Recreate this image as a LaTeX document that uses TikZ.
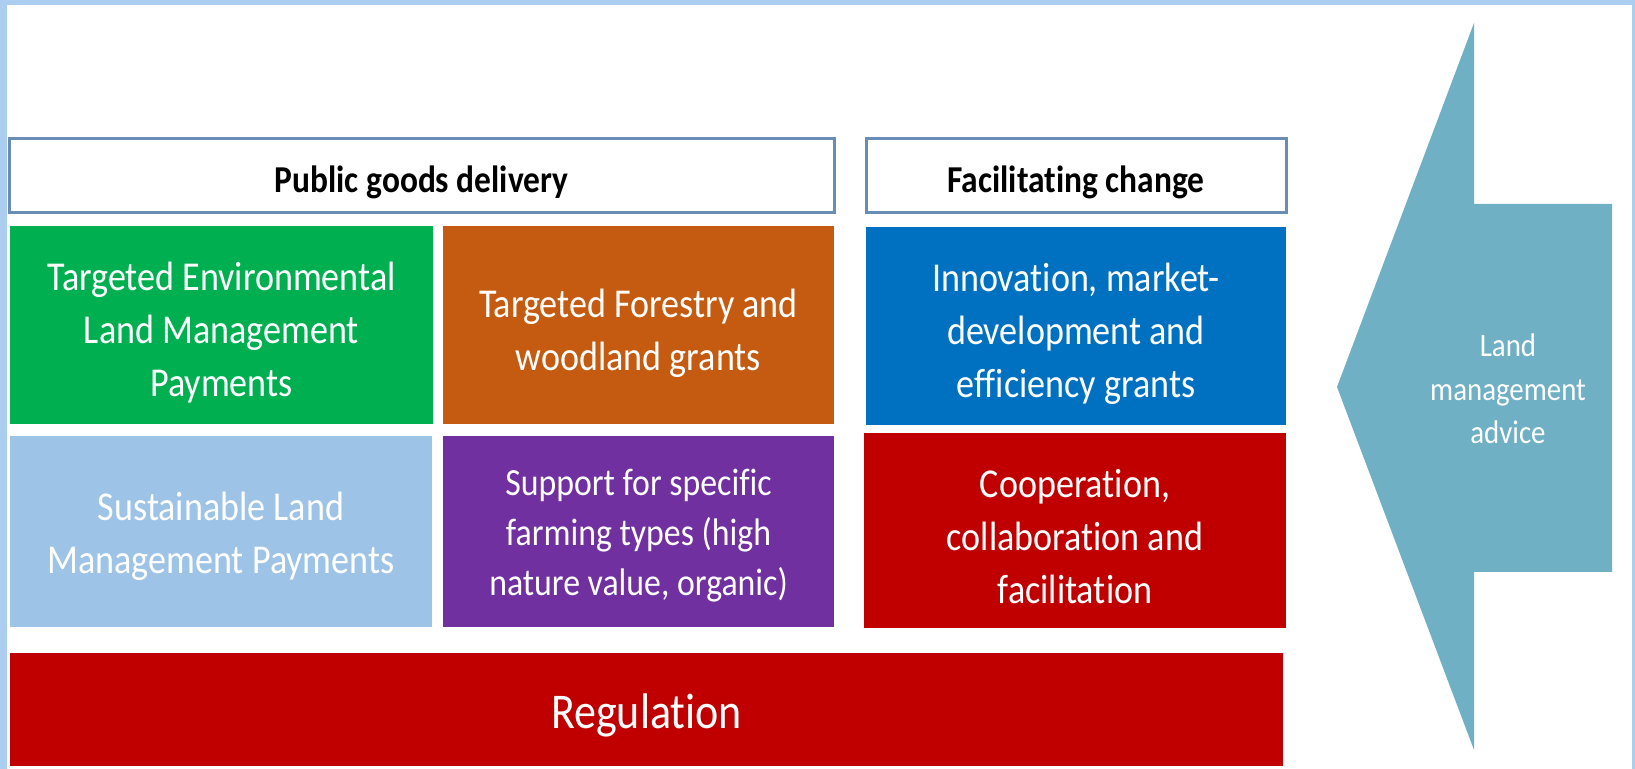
\documentclass[tikz,border=0pt]{standalone}
\usepackage{fontspec}
\setmainfont{Carlito}[FakeStretch=0.88, Ligatures=NoCommon]
\definecolor{frameblue}{HTML}{ABCDEF}
\definecolor{hdrline}{HTML}{6A8DB5}
\definecolor{cgreen}{HTML}{00B050}
\definecolor{corange}{HTML}{C55A11}
\definecolor{cblue}{HTML}{0070C0}
\definecolor{cltblue}{HTML}{9DC3E6}
\definecolor{cpurple}{HTML}{7030A0}
\definecolor{cred}{HTML}{C00000}
\definecolor{carrow}{HTML}{6FB0C5}
\tikzset{
  hdr/.style={draw=hdrline, line width=1.5pt, fill=white, inner sep=0pt, minimum height=37pt},
  hdrtext/.style={inner sep=0pt, font=\bfseries\fontsize{19}{24}\selectfont, text=black},
  cbox/.style={inner sep=0pt},
  ctext/.style={inner sep=0pt, align=center, text=white, font=\fontsize{20.5}{26.5}\selectfont},
}
\begin{document}
\begin{tikzpicture}[x=0.5pt, y=-0.5pt]
\useasboundingbox (0,0) rectangle (1635,769);
\fill[white] (0,0) rectangle (1635,769);
% frame
\fill[frameblue] (0,0) rectangle (1635,5);
\fill[frameblue] (0,0) rectangle (7,769);
\fill[frameblue] (1632,0) rectangle (1635,769);
% headers
\node[hdr, minimum width=412.5pt] (pgd) at (421.5,176) {};
\node[hdrtext, yshift=-3pt] (pgdt) at (pgd.center) {Public goods delivery};
\node[hdr, minimum width=210pt] (fc) at (1076,176) {};
\node[hdrtext, yshift=-3pt] (fct) at (fc.center) {Facilitating change};
% boxes
\node[cbox, fill=cgreen, minimum width=211.5pt, minimum height=99pt] (env) at (221.5,325) {};
\node[ctext, yshift=-4pt] (envt) at (env.center) {Targeted Environmental\\Land Management\\Payments};
\node[cbox, fill=corange, minimum width=195.5pt, minimum height=99pt] (forest) at (638.5,325) {};
\node[ctext, yshift=-4pt] (forestt) at (forest.center) {Targeted Forestry and\\woodland grants};
\node[cbox, fill=cblue, minimum width=210pt, minimum height=99pt] (innov) at (1076,326) {};
\node[ctext, yshift=-4pt] (innovt) at (innov.center) {Innovation, market-\\development and\\efficiency grants};
\node[cbox, fill=cltblue, minimum width=211pt, minimum height=95.5pt] (slm) at (221,531.5) {};
\node[ctext, yshift=-2.5pt] (slmt) at (slm.center) {Sustainable Land\\Management Payments};
\node[cbox, fill=cpurple, minimum width=195.5pt, minimum height=95.5pt] (farm) at (638.5,531.5) {};
\node[ctext, yshift=-2pt, font=\fontsize{19.2}{25}\selectfont] (farmt) at (farm.center)
  {Support for specific\\farming types (high\\nature value, organic)};
\node[cbox, fill=cred, minimum width=211pt, minimum height=97.5pt] (coop) at (1075,530.5) {};
\node[ctext, yshift=-3pt] (coopt) at (coop.center) {Cooperation,\\collaboration and\\facilitation};
\node[cbox, fill=cred, minimum width=636.5pt, minimum height=56.5pt] (reg) at (646.5,709.5) {};
\node[ctext, yshift=-3pt, font=\fontsize{25}{30}\selectfont] (regt) at (reg.center) {Regulation};
% arrow
\fill[carrow] (1337,387) -- (1474,23) -- (1474,204) -- (1612,204) -- (1612,572)
  -- (1474,572) -- (1474,750) -- cycle;
\node[align=center, text=white, font=\fontsize{16.4}{21.7}\selectfont, inner sep=0pt] (advice)
  at (1508,389) {Land\\management\\advice};
\end{tikzpicture}
\end{document}
